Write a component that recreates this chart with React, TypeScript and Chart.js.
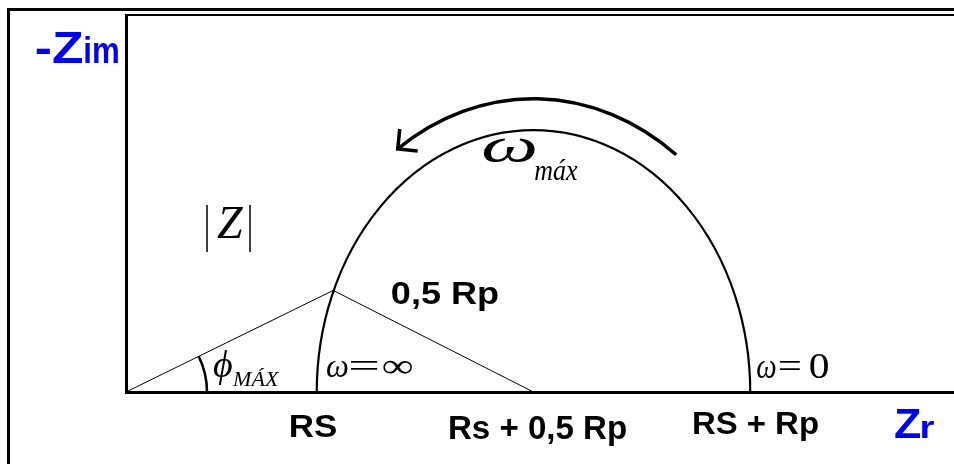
import { useEffect, useRef } from "react";
import { Chart, registerables } from "chart.js";

Chart.register(...registerables);

// Equivalent-circuit values along the real axis (Zr)
const RS = 44;
const RP = 100;
// Point of the semicircle where the |Z| vector meets it (Zr, -Zim)
const PHI_POINT = { x: 47.8, y: 19.4 };
// Frequency-sweep arrow: radius and angular span (degrees) around the semicircle centre
const ARROW_RADIUS = 56;
const ARROW_ANGLES = [54, 124];
// Axis extents
const X_RANGE = [0, 191];
const Y_RANGE = [0, 72];
// Text
const AXIS_TICK_LABELS = ["RS", "Rs + 0,5 Rp", "RS + Rp"];
const Y_TITLE = ["-Z", "im"];
const X_TITLE = ["Z", "r"];
const RADIUS_LABEL = "0,5 Rp";

const SANS = '"Liberation Sans", Arial, sans-serif';
const SERIF = '"Liberation Serif", "Times New Roman", "DejaVu Serif", serif';

const CANVAS_W = 944;
const CANVAS_H = 453;

// Draws text so that its ink starts at `left` and spans `width` pixels.
function fitText(
  ctx: CanvasRenderingContext2D,
  text: string,
  font: string,
  left: number,
  baseline: number,
  width: number,
  color = "#000"
) {
  ctx.save();
  ctx.font = font;
  ctx.fillStyle = color;
  ctx.textAlign = "left";
  ctx.textBaseline = "alphabetic";
  const m = ctx.measureText(text);
  const inkW = m.actualBoundingBoxLeft + m.actualBoundingBoxRight;
  let s = inkW > 0 ? width / inkW : 1;
  s = Math.max(0.6, Math.min(2, s));
  ctx.translate(left, baseline);
  ctx.scale(s, 1);
  ctx.fillText(text, m.actualBoundingBoxLeft, 0);
  ctx.restore();
}

const diagramPlugin = {
  id: "nyquistDiagram",
  afterDraw(chart: any) {
    const { ctx, chartArea: a, scales } = chart;
    const X = (v: number) => scales.x.getPixelForValue(v);
    const Y = (v: number) => scales.y.getPixelForValue(v);
    const deg = Math.PI / 180;

    ctx.save();
    ctx.strokeStyle = "#000";
    ctx.lineCap = "butt";

    // Plot frame: y axis, top edge, x axis
    ctx.lineWidth = 3;
    ctx.beginPath();
    ctx.moveTo(a.left + 0.5, a.top - 1);
    ctx.lineTo(a.left + 0.5, a.bottom + 2);
    ctx.stroke();
    ctx.lineWidth = 2;
    ctx.beginPath();
    ctx.moveTo(a.left, a.top);
    ctx.lineTo(a.right, a.top);
    ctx.stroke();
    ctx.lineWidth = 3;
    ctx.beginPath();
    ctx.moveTo(a.left, a.bottom + 0.5);
    ctx.lineTo(a.right, a.bottom + 0.5);
    ctx.stroke();

    // Semicircle from RS to RS + Rp
    const cx = X(RS + RP / 2);
    const cy = Y(0);
    const rx = X(RS + RP) - cx;
    const ry = cy - Y(RP / 2);
    ctx.lineWidth = 2.2;
    ctx.beginPath();
    ctx.ellipse(cx, cy, rx, ry, 0, Math.PI, 2 * Math.PI);
    ctx.stroke();

    // Frequency arrow (concentric arc, arrowhead at the high-frequency end)
    const arx = X(RS + RP / 2 + ARROW_RADIUS) - cx;
    const ary = cy - Y(ARROW_RADIUS);
    const a0 = -ARROW_ANGLES[1] * deg;
    const a1 = -ARROW_ANGLES[0] * deg;
    ctx.lineWidth = 3.5;
    ctx.beginPath();
    ctx.ellipse(cx, cy, arx, ary, 0, a0, a1);
    ctx.stroke();
    const tipX = cx + arx * Math.cos(a0);
    const tipY = cy + ary * Math.sin(a0);
    let dx = arx * Math.sin(a0);
    let dy = -ary * Math.cos(a0);
    const len = Math.hypot(dx, dy);
    dx /= len;
    dy /= len;
    const back = Math.atan2(-dy, -dx);
    const head = 20;
    ctx.lineJoin = "miter";
    ctx.beginPath();
    ctx.moveTo(tipX + head * Math.cos(back + 45 * deg), tipY + head * Math.sin(back + 45 * deg));
    ctx.lineTo(tipX, tipY);
    ctx.lineTo(tipX + head * Math.cos(back - 45 * deg), tipY + head * Math.sin(back - 45 * deg));
    ctx.stroke();

    // Phase-angle arc at the origin
    const ox = X(0);
    const oy = Y(0);
    const phi = Math.atan2(oy - Y(PHI_POINT.y), X(PHI_POINT.x) - ox);
    ctx.lineWidth = 2.5;
    ctx.beginPath();
    ctx.arc(ox, oy, 81, -phi, 0);
    ctx.stroke();

    // |Z| bars
    ctx.lineWidth = 1.5;
    ctx.beginPath();
    ctx.moveTo(197, 194);
    ctx.lineTo(197, 241);
    ctx.moveTo(240, 194);
    ctx.lineTo(240, 241);
    ctx.stroke();
    ctx.restore();

    fitText(ctx, "Z", `italic 46px ${SERIF}`, 207, 227, 26);

    // Axis titles
    fitText(ctx, Y_TITLE[0], `bold 45px ${SANS}`, 26, 52, 47, "#0000ff");
    fitText(ctx, Y_TITLE[1], `bold 36px ${SANS}`, 75, 52, 33, "#0000ff");
    fitText(ctx, X_TITLE[0], `bold 43px ${SANS}`, 885, 427, 26, "#0000ff");
    fitText(ctx, X_TITLE[1], `bold 32px ${SANS}`, 912, 427, 12, "#0000ff");

    // Positions on the real axis
    fitText(ctx, AXIS_TICK_LABELS[0], `bold 32px ${SANS}`, 281, 426, 46);
    fitText(ctx, AXIS_TICK_LABELS[1], `bold 33px ${SANS}`, 440, 428, 176);
    fitText(ctx, AXIS_TICK_LABELS[2], `bold 31px ${SANS}`, 684, 423, 124);

    // Radius label
    fitText(ctx, RADIUS_LABEL, `bold 31px ${SANS}`, 382, 293, 106);

    // Phase angle
    fitText(ctx, "\u03D5", `italic 38px ${SERIF}`, 203, 366, 19);
    fitText(ctx, "MÁX", `italic 22px ${SERIF}`, 222, 375, 48);

    // Frequency limits
    fitText(ctx, "\u03C9", `italic 34px ${SERIF}`, 317, 366, 21);
    fitText(ctx, "=", `34px ${SERIF}`, 340, 366, 28);
    fitText(ctx, "\u221E", `34px ${SERIF}`, 373, 366, 29);

    fitText(ctx, "\u03C9", `italic 35px ${SERIF}`, 747, 367, 19);
    fitText(ctx, "=", `35px ${SERIF}`, 769, 367, 22);
    fitText(ctx, "0", `35px ${SERIF}`, 800, 367, 19);

    // Frequency at the top of the semicircle
    fitText(ctx, "\u03C9", `italic 48px ${SERIF}`, 473, 151, 52);
    fitText(ctx, "máx", `italic 30px ${SERIF}`, 525, 169, 43);
  },
};

export default function App() {
  const canvasRef = useRef<HTMLCanvasElement | null>(null);

  useEffect(() => {
    if (!canvasRef.current) return;
    const chart = new Chart(canvasRef.current, {
      type: "scatter",
      data: {
        datasets: [
          {
            // |Z| vector and the 0,5 Rp radius
            data: [{ x: 0, y: 0 }, PHI_POINT, { x: RS + RP / 2, y: 0 }],
            showLine: true,
            borderColor: "#000",
            borderWidth: 1,
            pointRadius: 0,
            tension: 0,
          },
        ],
      },
      options: {
        responsive: false,
        animation: false,
        layout: { padding: { left: 116, top: 4, right: 0, bottom: 72 } },
        scales: {
          x: { type: "linear", min: X_RANGE[0], max: X_RANGE[1], display: false },
          y: { type: "linear", min: Y_RANGE[0], max: Y_RANGE[1], display: false },
        },
        plugins: {
          legend: { display: false },
          tooltip: { enabled: false },
        },
      },
      plugins: [diagramPlugin],
    });
    return () => chart.destroy();
  }, []);

  return (
    <div
      style={{
        position: "fixed",
        left: 7,
        top: 8,
        width: CANVAS_W,
        height: CANVAS_H,
        borderLeft: "3px solid #000",
        borderTop: "3px solid #000",
        background: "#fff",
      }}
    >
      <canvas
        ref={canvasRef}
        width={CANVAS_W}
        height={CANVAS_H}
        style={{ display: "block", width: CANVAS_W, height: CANVAS_H }}
      />
    </div>
  );
}
